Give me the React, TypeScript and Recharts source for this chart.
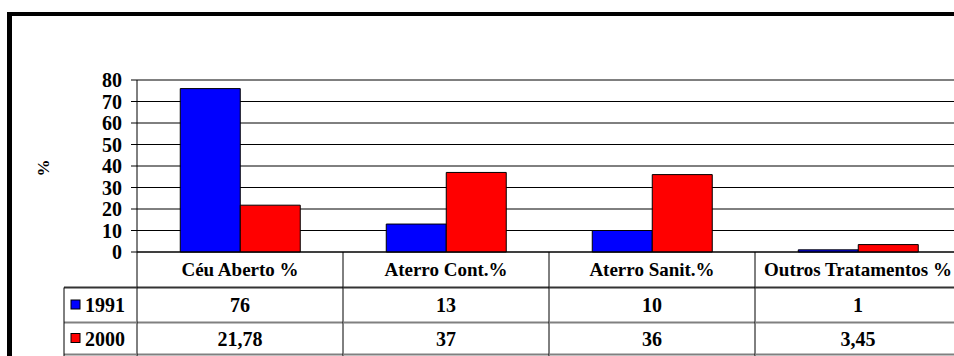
import { Bar, BarChart, CartesianGrid, XAxis, YAxis } from 'recharts';

const categories = ['Céu Aberto %', 'Aterro Cont.%', 'Aterro Sanit.%', 'Outros Tratamentos %'];
const values1991 = [76, 13, 10, 1];
const values2000 = [21.78, 37, 36, 3.45];
const yTicks = [0, 10, 20, 30, 40, 50, 60, 70, 80];

const series = [
  { key: 'y1991', label: '1991', color: '#0000FF', values: values1991 },
  { key: 'y2000', label: '2000', color: '#FF0000', values: values2000 },
];

const data = categories.map((name, i) => ({
  name,
  y1991: values1991[i],
  y2000: values2000[i],
}));

const FONT = "'Liberation Serif', 'Times New Roman', serif";
const CHART_W = 980;
const CHART_H = 356;
const MARGIN = { top: 80, right: 19, left: 0, bottom: 0 };
const Y_AXIS_W = 137;
const X_AXIS_H = 104;
const PLOT_W = CHART_W - MARGIN.left - MARGIN.right - Y_AXIS_W;

// table rows below the axis: header, then one row per series
const ROW_LINES = [35.5, 70.5, 102.5];
const LEGEND_LEFT = 64;

const fmt = (v: number) => String(v).replace('.', ',');

const textStyle = {
  fontFamily: FONT,
  fontWeight: 'bold' as const,
  fontSize: 20,
  fill: '#000',
};

function TableTick(props: any) {
  const { x, y, payload } = props;
  const i: number = props.index ?? payload.index;
  const bw = PLOT_W / categories.length;
  const left = x - bw / 2;
  const right = x + bw / 2;
  const rowTops = [0, ROW_LINES[0], ROW_LINES[1]];
  const rowBottoms = ROW_LINES;
  const mid = (r: number) => y + (rowTops[r] + rowBottoms[r]) / 2;

  return (
    <g>
      {ROW_LINES.map((ly, k) => (
        <line
          key={k}
          x1={left}
          x2={right}
          y1={y + ly}
          y2={y + ly}
          stroke={k === 0 ? '#333' : '#808080'}
          strokeWidth={2}
        />
      ))}
      <line x1={right} x2={right} y1={y} y2={y + 104} stroke="#000" />
      {i === 0 && <line x1={left} x2={left} y1={y} y2={y + 104} stroke="#000" />}
      <text x={x} y={mid(0)} dy="0.35em" textAnchor="middle" {...textStyle} fontSize={19}>
        {payload.value}
      </text>
      {series.map((s, r) => (
        <text key={s.key} x={x} y={mid(r + 1)} dy="0.35em" textAnchor="middle" {...textStyle}>
          {fmt(s.values[i])}
        </text>
      ))}
      {i === 0 && (
        <g>
          <line x1={LEGEND_LEFT} x2={left} y1={y + ROW_LINES[0]} y2={y + ROW_LINES[0]} stroke="#333" strokeWidth={2} />
          <line x1={LEGEND_LEFT} x2={left} y1={y + ROW_LINES[1]} y2={y + ROW_LINES[1]} stroke="#808080" strokeWidth={2} />
          <line x1={LEGEND_LEFT} x2={left} y1={y + ROW_LINES[2]} y2={y + ROW_LINES[2]} stroke="#808080" strokeWidth={2} />
          <line x1={LEGEND_LEFT} x2={LEGEND_LEFT} y1={y + ROW_LINES[0]} y2={y + 104} stroke="#000" />
          {series.map((s, r) => (
            <g key={s.key}>
              <rect x={LEGEND_LEFT + 7} y={mid(r + 1) - 5} width={9} height={9} fill={s.color} stroke="#000" />
              <text x={LEGEND_LEFT + 21} y={mid(r + 1)} dy="0.35em" textAnchor="start" {...textStyle}>
                {s.label}
              </text>
            </g>
          ))}
        </g>
      )}
    </g>
  );
}

function PercentLabel(props: any) {
  const { viewBox } = props;
  const cx = viewBox.x + 43;
  const cy = viewBox.y + viewBox.height / 2 + 2;
  return (
    <text
      x={cx}
      y={cy}
      dy="0.35em"
      textAnchor="middle"
      transform={`rotate(-90, ${cx}, ${cy})`}
      {...textStyle}
      fontSize={17}
    >
      %
    </text>
  );
}

export default function App() {
  return (
    <div
      style={{
        position: 'fixed',
        top: 0,
        left: 0,
        width: 954,
        height: 356,
        overflow: 'hidden',
        background: '#fff',
      }}
    >
      <div
        style={{
          position: 'absolute',
          left: 7,
          top: 12,
          width: 1000,
          height: 400,
          borderLeft: '5px solid #000',
          borderTop: '4px solid #000',
        }}
      />
      <div style={{ position: 'absolute', left: 0, top: 0 }}>
        <BarChart
          width={CHART_W}
          height={CHART_H}
          data={data}
          margin={MARGIN}
          barCategoryGap="21%"
          barGap={0}
        >
          <CartesianGrid vertical={false} stroke="#000" strokeOpacity={1} />
          <XAxis
            dataKey="name"
            height={X_AXIS_H}
            axisLine={{ stroke: '#000' }}
            tickLine={false}
            tickSize={0}
            tickMargin={0}
            interval={0}
            tick={<TableTick />}
          />
          <YAxis
            width={Y_AXIS_W}
            domain={[0, 80]}
            ticks={yTicks}
            interval={0}
            axisLine={{ stroke: '#000' }}
            tickLine={{ stroke: '#000' }}
            tickSize={6}
            tickMargin={9}
            tick={textStyle}
            label={<PercentLabel />}
          />
          {series.map((s) => (
            <Bar
              key={s.key}
              dataKey={s.key}
              name={s.label}
              fill={s.color}
              stroke="#000"
              strokeWidth={1}
              isAnimationActive={false}
            />
          ))}
        </BarChart>
      </div>
    </div>
  );
}
